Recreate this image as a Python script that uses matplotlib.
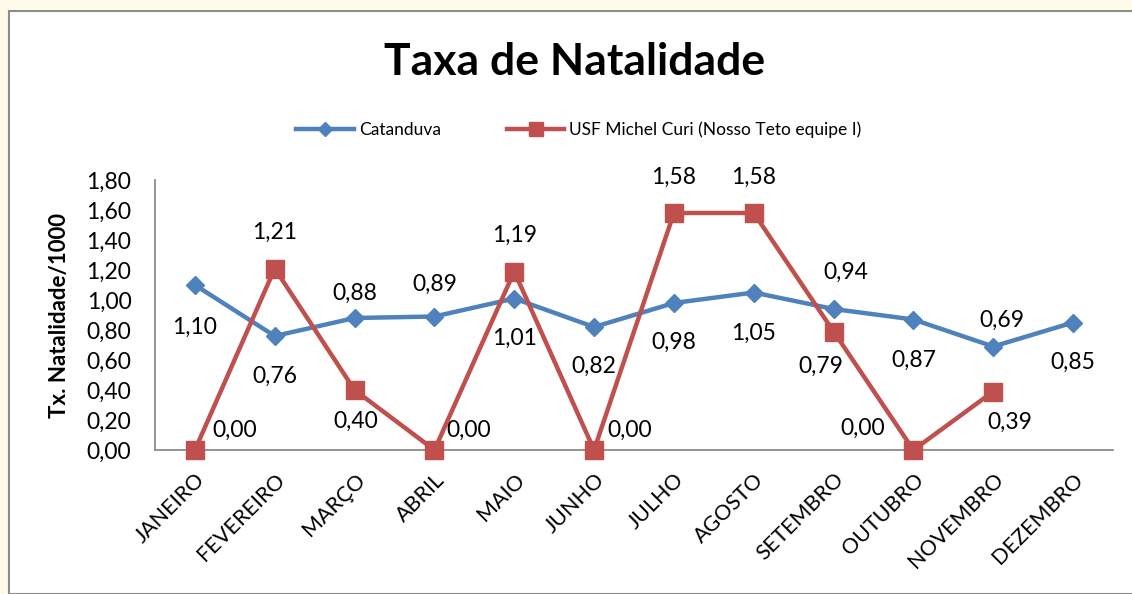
import matplotlib
matplotlib.use('Agg')
import matplotlib.pyplot as plt
from matplotlib.patches import Rectangle
from matplotlib.lines import Line2D

# Data
meses = ['JANEIRO', 'FEVEREIRO', 'MARÇO', 'ABRIL', 'MAIO', 'JUNHO', 'JULHO',
         'AGOSTO', 'SETEMBRO', 'OUTUBRO', 'NOVEMBRO', 'DEZEMBRO']
catanduva = [1.10, 0.76, 0.88, 0.89, 1.01, 0.82, 0.98, 1.05, 0.94, 0.87, 0.69, 0.85]
usf = [0.00, 1.21, 0.40, 0.00, 1.19, 0.00, 1.58, 1.58, 0.79, 0.00, 0.39]
y_ticks = [0.0, 0.2, 0.4, 0.6, 0.8, 1.0, 1.2, 1.4, 1.6, 1.8]

# label offsets in pixels (dx, dy), Excel-like placement
off_cat = [(0, -42), (0, -40), (0, 25), (0, 32), (0, -40), (0, -39), (0, -39),
           (0, -41), (12, 37), (0, -41), (9, 26), (0, -40)]
off_usf = [(40, 20), (0, 36), (1, -31), (34, 20), (0, 36), (36, 20), (0, 36),
           (0, 36), (-13, -35), (-51, 22), (17, -31)]

blue = '#4F81BD'
red = '#C0504D'
font = 'Lato'
plt.rcParams['font.family'] = [font, 'DejaVu Sans']

fig = plt.figure(figsize=(11.32, 5.94), dpi=100)
fig.patch.set_facecolor('#FFFBEA')
fig.patches.append(Rectangle((9 / 1132, 0), 1.1, (594 - 11) / 594, transform=fig.transFigure,
                             facecolor='white', edgecolor='#8C8C8C', linewidth=1.5, zorder=-10))

ax = fig.add_axes([155 / 1132, (594 - 450) / 594, (1113 - 155) / 1132, (450 - 180) / 594])
ax.set_zorder(2)
ax.set_facecolor('none')
x = list(range(len(meses)))

ax.plot(x, catanduva, color=blue, lw=3.2, marker='D', markersize=9, zorder=3)
ax.plot(x[:len(usf)], usf, color=red, lw=3.2, marker='s', markersize=13, zorder=4, clip_on=False)

fmt = lambda v: f'{v:.2f}'.replace('.', ',')
for xi, v, (dx, dy) in zip(x, catanduva, off_cat):
    ax.annotate(fmt(v), (xi, v), xytext=(dx, dy), textcoords='offset pixels',
                ha='center', va='center', fontsize=16.5, zorder=5)
for xi, v, (dx, dy) in zip(x, usf, off_usf):
    ax.annotate(fmt(v), (xi, v), xytext=(dx, dy), textcoords='offset pixels',
                ha='center', va='center', fontsize=16.5, zorder=5)

ax.set_xlim(-0.5, 11.5)
ax.set_ylim(0, 1.8)
ax.set_yticks(y_ticks)
ax.set_yticklabels([fmt(v) for v in y_ticks], fontsize=16.5)
ax.set_xticks(x)
ax.set_xticklabels(meses, rotation=45, ha='right', rotation_mode='anchor', fontsize=15.5)
ax.tick_params(axis='both', length=0)
ax.tick_params(axis='x', pad=14)
ax.tick_params(axis='y', pad=17)
for s in ['top', 'right']:
    ax.spines[s].set_visible(False)
for s in ['left', 'bottom']:
    ax.spines[s].set_color('#8C8C8C')
    ax.spines[s].set_linewidth(1.3)

ax.set_ylabel('Tx. Natalidade/1000', fontsize=16, fontweight='bold', labelpad=12)

fig.text(575 / 1132, 1 - 62 / 594, 'Taxa de Natalidade', ha='center', va='center',
         fontsize=32, fontweight='bold')

handles = [Line2D([], [], color=blue, lw=3.2, marker='D', markersize=7),
           Line2D([], [], color=red, lw=3.2, marker='s', markersize=10)]
fig.legend(handles, ['Catanduva', 'USF Michel Curi (Nosso Teto equipe I)'],
           loc='center', bbox_to_anchor=(579 / 1132, 1 - 130 / 594), ncol=2, frameon=False,
           fontsize=12.5, handlelength=3.3, handletextpad=0.3, columnspacing=3.8)

fig.savefig('out.png', dpi=100, facecolor=fig.get_facecolor())
